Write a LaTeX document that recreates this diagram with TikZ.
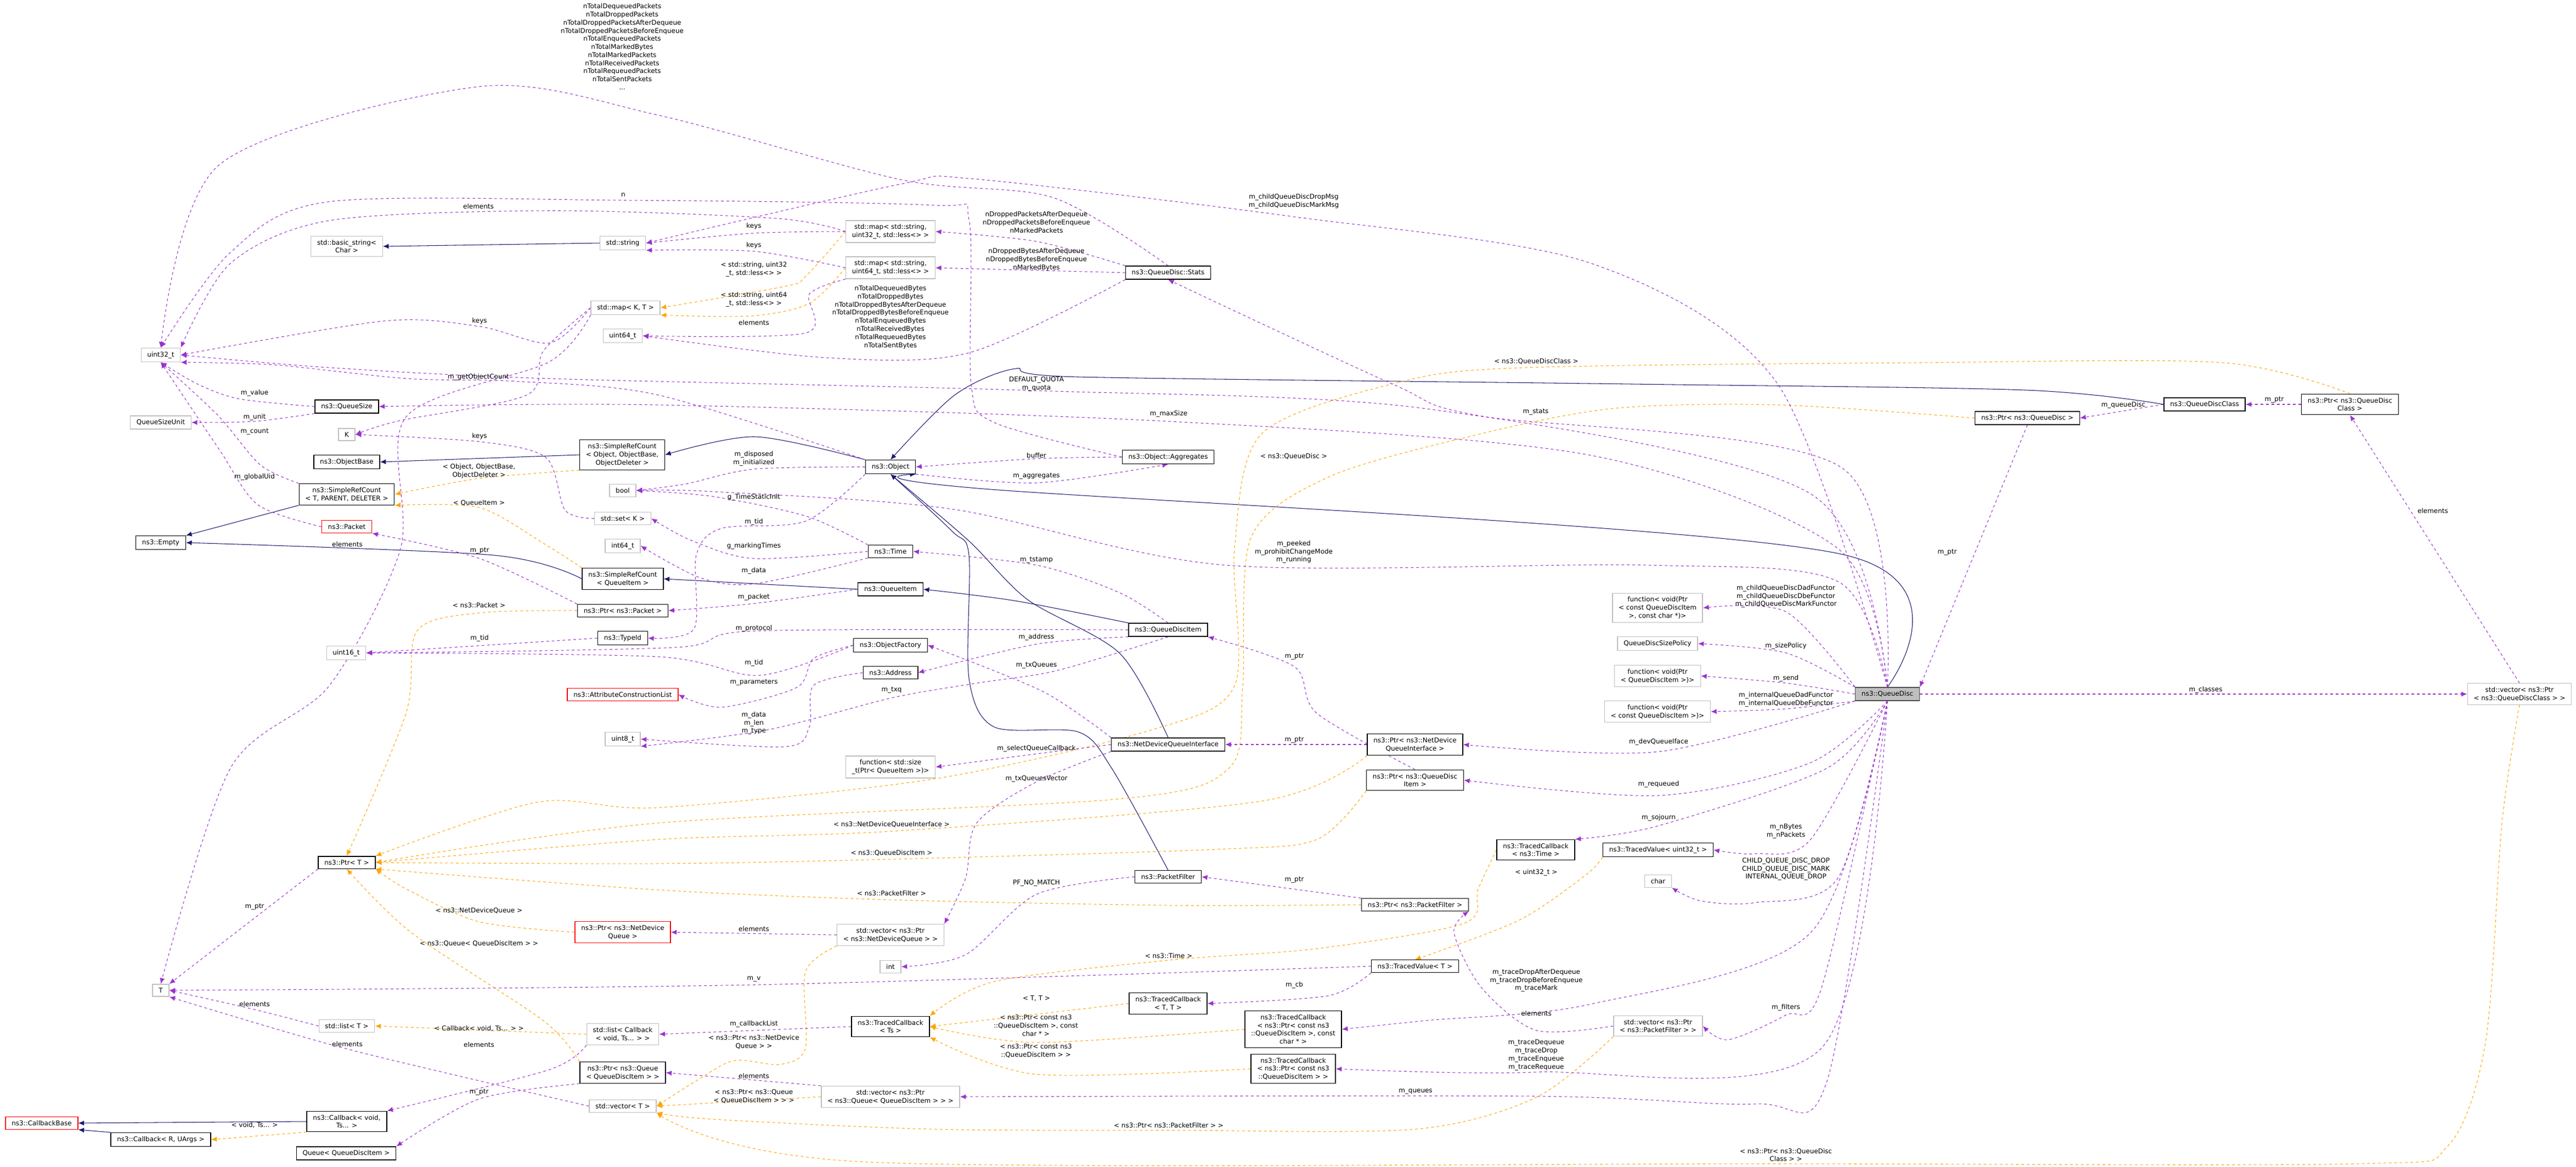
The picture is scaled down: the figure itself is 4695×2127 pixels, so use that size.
\documentclass[tikz,border=0pt]{standalone}
\usepackage{fontspec}
\setmainfont{DejaVu Sans}
\usetikzlibrary{arrows.meta}
\definecolor{memc}{HTML}{9A32CD}
\definecolor{inhc}{HTML}{191970}
\definecolor{tplc}{HTML}{FFA500}
\definecolor{extc}{HTML}{BFBFBF}
\pgfdeclarelayer{bg}
\pgfsetlayers{bg,main}
\tikzset{
  box/.style={draw, fill=white, align=center, font=\fontsize{3.4}{4.2}\selectfont,
    inner xsep=3.2pt, inner ysep=1.9pt, line width=0.4pt},
  cls/.style={box, draw=black},
  ext/.style={box, draw=extc},
  redbox/.style={box, draw=red},
  cur/.style={box, draw=black!70, fill=extc},
  lbl/.style={font=\fontsize{3.4}{4.2}\selectfont, align=center, inner sep=0pt},
  link/.style={line width=0.3pt, -{Latex[length=3pt,width=2.6pt]}},
  mem/.style={link, draw=memc, fill=none, dash pattern=on 1.4pt off 1.4pt},
  tpl/.style={link, draw=tplc, dash pattern=on 1.4pt off 1.4pt},
  inh/.style={link, draw=inhc}
}
\begin{document}
\begin{tikzpicture}[x=0.01cm,y=-0.01cm]
\useasboundingbox (0,0) rectangle (4695,2127);
% left columns
\node[ext] (u32) at (293,647) {uint32\_t};
\node[ext] (qsu) at (293,770) {QueueSizeUnit};
\node[cls] (empty) at (293,989) {ns3::Empty};
\node[ext] (T) at (293,1805) {T};
\node[cls] (cbR) at (293,2077) {ns3::Callback< R, UArgs >};
\node[redbox] (cbBase) at (76,2047) {ns3::CallbackBase};
\node[ext] (bstr) at (632,449) {std::basic\_string<\\Char >};
\node[cls] (qsize) at (632,741) {ns3::QueueSize};
\node[ext] (K) at (632,792) {K};
\node[cls] (objbase) at (632,842) {ns3::ObjectBase};
\node[cls] (srcT) at (632,901) {ns3::SimpleRefCount\\< T, PARENT, DELETER >};
\node[redbox] (packet) at (632,960) {ns3::Packet};
\node[ext] (u16) at (631,1190) {uint16\_t};
\node[cls] (ptrT) at (632,1572) {ns3::Ptr< T >};
\node[ext] (listT) at (632,1870) {std::list< T >};
\node[cls] (cbVoid) at (632,2044) {ns3::Callback< void,\\Ts... >};
\node[cls] (queueQDI) at (631,2102) {Queue< QueueDiscItem >};
\node[ext] (str) at (1135,443) {std::string};
\node[ext] (mapKT) at (1140,561) {std::map< K, T >};
\node[ext] (u64) at (1135,612) {uint64\_t};
\node[cls] (srcObj) at (1134,829) {ns3::SimpleRefCount\\< Object, ObjectBase,\\ObjectDeleter >};
\node[ext] (bool) at (1135,894) {bool};
\node[ext] (setK) at (1135,945) {std::set< K >};
\node[ext] (i64) at (1135,995) {int64\_t};
\node[cls] (srcQI) at (1135,1055) {ns3::SimpleRefCount\\< QueueItem >};
\node[cls] (ptrPkt) at (1135,1113) {ns3::Ptr< ns3::Packet >};
\node[cls] (typeid) at (1135,1163) {ns3::TypeId};
\node[redbox] (acl) at (1135,1266) {ns3::AttributeConstructionList};
\node[ext] (u8) at (1135,1347) {uint8\_t};
\node[redbox] (ptrNDQ) at (1135,1699) {ns3::Ptr< ns3::NetDevice\\Queue >};
\node[ext] (listCb) at (1135,1885) {std::list< Callback\\< void, Ts... > >};
\node[cls] (ptrQueue) at (1135,1955) {ns3::Ptr< ns3::Queue\\< QueueDiscItem > >};
\node[ext] (vecT) at (1135,2016) {std::vector< T >};
% middle columns
\node[ext] (map32) at (1623,422) {std::map< std::string,\\uint32\_t, std::less<> >};
\node[ext] (map64) at (1623,488) {std::map< std::string,\\uint64\_t, std::less<> >};
\node[cls] (object) at (1623,851) {ns3::Object};
\node[cls] (time) at (1623,1005) {ns3::Time};
\node[cls] (qitem) at (1623,1074) {ns3::QueueItem};
\node[cls] (objfac) at (1623,1176) {ns3::ObjectFactory};
\node[cls] (address) at (1623,1226) {ns3::Address};
\node[ext] (fnSize) at (1623,1398) {function< std::size\\\_t(Ptr< QueueItem >)>};
\node[ext] (vecNDQ) at (1623,1704) {std::vector< ns3::Ptr\\< ns3::NetDeviceQueue > >};
\node[ext] (int) at (1623,1762) {int};
\node[cls] (tcTs) at (1623,1871) {ns3::TracedCallback\\< Ts >};
\node[ext] (vecQueue) at (1623,1999) {std::vector< ns3::Ptr\\< ns3::Queue< QueueDiscItem > > >};
\node[cls] (stats) at (2129,497) {ns3::QueueDisc::Stats};
\node[cls] (aggr) at (2129,833) {ns3::Object::Aggregates};
\node[cls] (qdi) at (2129,1148) {ns3::QueueDiscItem};
\node[cls] (ndqi) at (2129,1357) {ns3::NetDeviceQueueInterface};
\node[cls] (pf) at (2129,1598) {ns3::PacketFilter};
\node[cls] (tcTT) at (2129,1829) {ns3::TracedCallback\\< T, T >};
\node[cls] (tcConstChar) at (2357,1876) {ns3::TracedCallback\\< ns3::Ptr< const ns3\\::QueueDiscItem >, const\\char * >};
\node[cls] (tcConst) at (2357,1948) {ns3::TracedCallback\\< ns3::Ptr< const ns3\\::QueueDiscItem > >};
\node[cls] (ptrNDQI) at (2579,1357) {ns3::Ptr< ns3::NetDevice\\QueueInterface >};
\node[cls] (ptrQDI) at (2579,1422) {ns3::Ptr< ns3::QueueDisc\\Item >};
\node[cls] (ptrPF) at (2579,1649) {ns3::Ptr< ns3::PacketFilter >};
\node[cls] (tvT) at (2579,1761) {ns3::TracedValue< T >};
\node[cls] (tcTime) at (2799,1549) {ns3::TracedCallback\\< ns3::Time >};
% right columns
\node[ext] (fnConstChar) at (3021,1108) {function< void(Ptr\\< const QueueDiscItem\\>, const char *)>};
\node[ext] (sizePol) at (3021,1173) {QueueDiscSizePolicy};
\node[ext] (fnSend) at (3021,1232) {function< void(Ptr\\< QueueDiscItem >)>};
\node[ext] (fnConst) at (3021,1297) {function< void(Ptr\\< const QueueDiscItem >)>};
\node[cls] (tvU32) at (3022,1549) {ns3::TracedValue< uint32\_t >};
\node[ext] (char) at (3022,1606) {char};
\node[ext] (vecPF) at (3022,1870) {std::vector< ns3::Ptr\\< ns3::PacketFilter > >};
\node[cur] (qdisc) at (3440,1265) {ns3::QueueDisc};
\node[cls] (ptrQD) at (3695,762) {ns3::Ptr< ns3::QueueDisc >};
\node[cls] (qdclass) at (4018,737) {ns3::QueueDiscClass};
\node[cls] (ptrQDC) at (4283,737) {ns3::Ptr< ns3::QueueDisc\\Class >};
\node[ext] (vecQDC) at (4592,1265) {std::vector< ns3::Ptr\\< ns3::QueueDiscClass > >};

\begin{pgfonlayer}{bg}
% inheritance
\draw[inh] (srcObj.west) -- (objbase.east);
\draw[inh] plot[smooth] coordinates {(object.north west) (1376,796) (srcObj.east)};
\draw[inh] (srcT.south west) -- (empty.north east);
\draw[inh] plot[smooth] coordinates {(srcQI.west) (900,1012) (empty.east)};
\draw[inh] (qitem.west) -- (srcQI.east);
\draw[inh] plot[smooth] coordinates {(qdisc.north) (3356,1010) (1781,890) (object.south east)};
\draw[inh] plot[smooth] coordinates {(qdclass.west) (3691,711) (2974,700) (1965,687) (1850,672) (1740,720) (object.north)};
\draw[inh] plot[smooth] coordinates {(qdi.north west) (1850,1095) (qitem.east)};
\draw[inh] plot[smooth] coordinates {(ndqi.north) (2041,1191) (1873,1093) (1766,986) (object.south)};
\draw[inh] plot[smooth] coordinates {(pf.north) (2026,1400) (1965,1334) (1812,1325) (1766,1236) (1766,1012) (1735,968) (object.south)};
\draw[inh] (cbVoid.west) -- (cbBase.east);
\draw[inh] (cbR.north west) -- (cbBase.south east);
\draw[inh] (str.west) -- (bstr.east);
% templates
\draw[tpl] plot[smooth] coordinates {(srcObj.south west) (873,872) (srcT.east)};
\draw[tpl] plot[smooth] coordinates {(srcQI.north west) (990,990) (873,925) (srcT.south east)};
\draw[tpl] plot[smooth] coordinates {(ptrPkt.west) (873,1117) (760,1150) (740,1300) (ptrT.north)};
\draw[tpl] plot[smooth] coordinates {(map32.west) (1468,504) (1430,522) (mapKT.east)};
\draw[tpl] plot[smooth] coordinates {(map64.west) (1475,553) (1368,576) (mapKT.south east)};
\draw[tpl] plot[smooth] coordinates {(ptrNDQ.west) (873,1680) (740,1620) (ptrT.south east)};
\draw[tpl] plot[smooth] coordinates {(ptrQueue.north west) (990,1860) (750,1700) (ptrT.south)};
\draw[tpl] (listCb.west) -- (listT.east);
\draw[tpl] (cbVoid.south west) -- (cbR.east);
\draw[tpl] plot[smooth] coordinates {(vecNDQ.south west) (1468,1771) (1468,1910) (1422,1940) (1338,1933) (1269,1970) (vecT.east)};
\draw[tpl] (vecQueue.west) -- (vecT.east);
\draw[tpl] plot[smooth] coordinates {(vecPF.south west) (2800,2000) (2580,2058) (2130,2060) (1700,2058) (1300,2040) (vecT.south east)};
\draw[tpl] plot[smooth] coordinates {(vecQDC.south) (4560,1500) (4530,1900) (4460,2090) (4300,2121) (3255,2121) (1582,2118) (vecT.south east)};
\draw[tpl] plot[smooth] coordinates {(tcTime.west) (2694,1620) (2668,1683) (2400,1729) (2130,1750) (1812,1789) (tcTs.north east)};
\draw[tpl] (tcTT.west) -- (tcTs.east);
\draw[tpl] plot[smooth] coordinates {(tcConstChar.west) (1888,1900) (tcTs.east)};
\draw[tpl] plot[smooth] coordinates {(tcConst.west) (1888,1958) (tcTs.south east)};
\draw[tpl] plot[smooth] coordinates {(tvU32.south west) (2890,1595) (2767,1678) (tvT.north)};
\draw[tpl] plot[smooth] coordinates {(ptrQDC.north) (4051,661) (3500,661) (2782,670) (2553,696) (2300,790) (2250,1000) (2250,1250) (2100,1330) (1700,1420) (1200,1472) (980,1462) (ptrT.north east)};
\draw[tpl] plot[smooth] coordinates {(ptrQD.west) (3242,738) (2935,745) (2668,798) (2420,870) (2280,980) (2265,1250) (2240,1400) (2042,1456) (1200,1500) (ptrT.east)};
\draw[tpl] plot[smooth] coordinates {(ptrNDQI.south west) (2300,1460) (1625,1515) (1200,1530) (ptrT.east)};
\draw[tpl] plot[smooth] coordinates {(ptrQDI.south west) (2400,1530) (2218,1548) (1625,1566) (1200,1574) (ptrT.east)};
\draw[tpl] plot[smooth] coordinates {(ptrPF.west) (2130,1650) (1625,1640) (1200,1622) (ptrT.south east)};
% members
\draw[mem] plot[smooth] coordinates {(stats.north) (1919,360) (1644,328) (1200,210) (872,158) (400,300) (u32.north)};
\draw[mem] plot[smooth] coordinates {(qdisc.north) (3240,700) (2900,480) (2358,395) (1774,326) (1644,335) (str.east)};
\draw[mem] plot[smooth] coordinates {(aggr.west) (1812,770) (1770,700) (1766,400) (1700,374) (1136,365) (597,368) (420,460) (u32.north)};
\draw[mem] plot[smooth] coordinates {(map32.west) (1414,398) (1000,384) (600,402) (420,480) (u32.north east)};
\draw[mem] plot[smooth] coordinates {(map32.west) (1374,425) (str.east)};
\draw[mem] plot[smooth] coordinates {(map64.west) (1374,458) (str.south east)};
\draw[mem] plot[smooth] coordinates {(map64.south west) (1475,536) (1468,607) (u64.east)};
\draw[mem] plot[smooth] coordinates {(stats.north west) (1889,440) (map32.east)};
\draw[mem] (stats.west) -- (map64.east);
\draw[mem] plot[smooth] coordinates {(stats.south west) (1766,643) (1506,652) (u64.east)};
\draw[mem] plot[smooth] coordinates {(qdisc.north) (3356,852) (2698,758) (2538,700) (stats.south)};
\draw[mem] plot[smooth] coordinates {(qdisc.north) (3350,1000) (2900,830) (2130,768) (1200,738) (qsize.east)};
\draw[mem] plot[smooth] coordinates {(qdisc.north) (3300,900) (2600,745) (1889,712) (1000,690) (600,670) (u32.east)};
\draw[mem] plot[smooth] coordinates {(object.north west) (1200,720) (941,695) (742,690) (500,665) (u32.south east)};
\draw[mem] plot[smooth] coordinates {(mapKT.west) (1002,625) (874,595) (700,585) (u32.east)};
\draw[mem] plot[smooth] coordinates {(mapKT.west) (990,640) (960,720) (727,767) (K.east)};
\draw[mem] plot[smooth] coordinates {(mapKT.south west) (1000,660) (740,760) (730,1000) (600,1250) (420,1400) (T.north)};
\draw[mem] plot[smooth] coordinates {(setK.west) (1030,930) (995,834) (874,805) (K.east)};
\draw[mem] plot[smooth] coordinates {(qsize.west) (436,727) (360,700) (u32.south)};
\draw[mem] plot[smooth] coordinates {(qsize.south west) (464,768) (qsu.east)};
\draw[mem] plot[smooth] coordinates {(srcT.north west) (474,847) (398,758) (u32.south)};
\draw[mem] plot[smooth] coordinates {(packet.west) (470,920) (400,820) (u32.south)};
\draw[mem] plot[smooth] coordinates {(ptrPkt.north west) (874,1018) (packet.south east)};
\draw[mem] (typeid.west) -- (u16.east);
\draw[mem] plot[smooth] coordinates {(objfac.west) (1384,1231) (1200,1197) (u16.east)};
\draw[mem] plot[smooth] coordinates {(object.south west) (1468,950) (1315,963) (1269,1012) (1265,1146) (typeid.east)};
\draw[mem] plot[smooth] coordinates {(object.west) (1374,855) (1250,882) (bool.east)};
\draw[mem] plot[smooth] coordinates {(time.north west) (1470,941) (1300,905) (bool.east)};
\draw[mem] plot[smooth] coordinates {(qdisc.north) (3350,1060) (3000,1030) (2233,1030) (1736,928) (1300,896) (bool.east)};
\draw[mem] plot[smooth] coordinates {(time.west) (1374,1018) (1260,985) (setK.east)};
\draw[mem] plot[smooth] coordinates {(time.south west) (1376,1064) (1276,1053) (i64.east)};
\draw[mem] plot[smooth] coordinates {(qitem.west) (1374,1100) (ptrPkt.east)};
\draw[mem] plot[smooth] coordinates {(qdi.south west) (1889,1174) (address.east)};
\draw[mem] plot[smooth] coordinates {(qdi.west) (1376,1150) (1230,1180) (u16.east)};
\draw[mem] plot[smooth] coordinates {(qdi.north) (2040,1080) (1889,1030) (time.east)};
\draw[mem] plot[smooth] coordinates {(objfac.west) (1483,1200) (1452,1253) (1315,1289) (acl.east)};
\draw[mem] plot[smooth] coordinates {(address.west) (1483,1249) (1475,1325) (1430,1361) (u8.east)};
\draw[mem] plot[smooth] coordinates {(qdi.south) (1927,1222) (1781,1245) (1625,1272) (1400,1330) (u8.south east)};
\draw[mem] plot[smooth] coordinates {(ndqi.south west) (1889,1425) (1780,1500) (1760,1600) (vecNDQ.north east)};
\draw[mem] plot[smooth] coordinates {(ndqi.west) (1889,1374) (fnSize.east)};
\draw[mem] plot[smooth] coordinates {(ndqi.north west) (1900,1260) (objfac.east)};
\draw[mem] (ptrNDQI.west) -- (ndqi.east);
\draw[mem] plot[smooth] coordinates {(ptrQDI.north) (2400,1300) (2359,1215) (qdi.south east)};
\draw[mem] (ptrPF.north west) -- (pf.east);
\draw[mem] plot[smooth] coordinates {(pf.west) (1889,1630) (1760,1740) (int.east)};
\draw[mem] (vecNDQ.west) -- (ptrNDQ.east);
\draw[mem] plot[smooth] coordinates {(tvT.west) (1374,1795) (T.east)};
\draw[mem] plot[smooth] coordinates {(tvT.south west) (2420,1815) (tcTT.east)};
\draw[mem] (tcTs.west) -- (listCb.east);
\draw[mem] (vecQueue.north west) -- (ptrQueue.east);
\draw[mem] plot[smooth] coordinates {(ptrQueue.south west) (873,2003) (queueQDI.north east)};
\draw[mem] plot[smooth] coordinates {(listCb.south west) (1000,1950) (cbVoid.north east)};
\draw[mem] plot[smooth] coordinates {(listT.west) (464,1840) (T.east)};
\draw[mem] plot[smooth] coordinates {(vecT.west) (633,1912) (T.south east)};
\draw[mem] (ptrT.south west) -- (T.north east);
\draw[mem] plot[smooth] coordinates {(qdisc.north west) (3255,1115) (fnConstChar.east)};
\draw[mem] plot[smooth] coordinates {(qdisc.north west) (3255,1190) (sizePol.east)};
\draw[mem] plot[smooth] coordinates {(qdisc.west) (3255,1245) (fnSend.east)};
\draw[mem] plot[smooth] coordinates {(qdisc.south west) (3255,1292) (fnConst.east)};
\draw[mem] plot[smooth] coordinates {(qdisc.south west) (3023,1370) (ptrNDQI.east)};
\draw[mem] plot[smooth] coordinates {(qdisc.south) (3300,1390) (3023,1450) (ptrQDI.east)};
\draw[mem] plot[smooth] coordinates {(qdisc.south) (3330,1400) (3023,1505) (tcTime.north east)};
\draw[mem] plot[smooth] coordinates {(qdisc.south) (3300,1530) (3200,1556) (tvU32.east)};
\draw[mem] plot[smooth] coordinates {(qdisc.south) (3350,1600) (3200,1645) (3100,1642) (char.south east)};
\draw[mem] plot[smooth] coordinates {(qdisc.south) (3300,1700) (2900,1830) (2600,1860) (tcConstChar.east)};
\draw[mem] plot[smooth] coordinates {(qdisc.south) (3320,1800) (3255,1850) (3150,1895) (vecPF.east)};
\draw[mem] plot[smooth] coordinates {(qdisc.south) (3320,1910) (2800,1954) (tcConst.east)};
\draw[mem] plot[smooth] coordinates {(qdisc.south) (3330,1970) (3200,2012) (2800,1998) (vecQueue.east)};
\draw[mem] (ptrQD.south) -- (qdisc.north east);
\draw[mem] (qdclass.west) -- (ptrQD.east);
\draw[mem] (ptrQDC.west) -- (qdclass.east);
\draw[mem] (vecQDC.north) -- (ptrQDC.south);
\draw[mem] (qdisc.east) -- (vecQDC.west);
\draw[mem] plot[smooth] coordinates {(vecPF.west) (2800,1878) (2700,1800) (2650,1700) (ptrPF.south east)};
\draw[mem] plot[smooth] coordinates {(aggr.west) (1889,836) (object.east)};
\draw[mem] plot[smooth] coordinates {(object.south east) (1889,880) (aggr.south)};
\end{pgfonlayer}

% edge labels
\node[lbl] (lTotalPk) at (1134,85) {nTotalDequeuedPackets\\nTotalDroppedPackets\\nTotalDroppedPacketsAfterDequeue\\nTotalDroppedPacketsBeforeEnqueue\\nTotalEnqueuedPackets\\nTotalMarkedBytes\\nTotalMarkedPackets\\nTotalReceivedPackets\\nTotalRequeuedPackets\\nTotalSentPackets\\...};
\node[lbl] (lMsg) at (2358,367) {m\_childQueueDiscDropMsg\\m\_childQueueDiscMarkMsg};
\node[lbl] (lN) at (1136,355) {n};
\node[lbl] (lElem1) at (872,376) {elements};
\node[lbl] (lKeys1) at (1374,412) {keys};
\node[lbl] (lKeys2) at (1374,447) {keys};
\node[lbl] (lTpl32) at (1374,491) {< std::string, uint32\\\_t, std::less<> >};
\node[lbl] (lTpl64) at (1374,546) {< std::string, uint64\\\_t, std::less<> >};
\node[lbl] (lElem2) at (1374,588) {elements};
\node[lbl] (lDropPk) at (1889,405) {nDroppedPacketsAfterDequeue\\nDroppedPacketsBeforeEnqueue\\nMarkedPackets};
\node[lbl] (lDropB) at (1889,473) {nDroppedBytesAfterDequeue\\nDroppedBytesBeforeEnqueue\\nMarkedBytes};
\node[lbl] (lTotalB) at (1623,578) {nTotalDequeuedBytes\\nTotalDroppedBytes\\nTotalDroppedBytesAfterDequeue\\nTotalDroppedBytesBeforeEnqueue\\nTotalEnqueuedBytes\\nTotalReceivedBytes\\nTotalRequeuedBytes\\nTotalSentBytes};
\node[lbl] (lKeys3) at (874,585) {keys};
\node[lbl] (lGetObj) at (872,687) {m\_getObjectCount};
\node[lbl] (lQuota) at (1889,700) {DEFAULT\_QUOTA\\m\_quota};
\node[lbl] (lMaxSize) at (2130,754) {m\_maxSize};
\node[lbl] (lStats) at (2799,751) {m\_stats};
\node[lbl] (lTplQDC) at (2800,659) {< ns3::QueueDiscClass >};
\node[lbl] (lTplQD) at (2358,832) {< ns3::QueueDisc >};
\node[lbl] (lValue) at (464,716) {m\_value};
\node[lbl] (lUnit) at (464,760) {m\_unit};
\node[lbl] (lCount) at (464,787) {m\_count};
\node[lbl] (lKeys4) at (874,795) {keys};
\node[lbl] (lTplObj) at (873,859) {< Object, ObjectBase,\\ObjectDeleter >};
\node[lbl] (lGlobalUid) at (464,869) {m\_globalUid};
\node[lbl] (lTplQI) at (873,917) {< QueueItem >};
\node[lbl] (lElem3) at (633,992) {elements};
\node[lbl] (lPtr1) at (874,1004) {m\_ptr};
\node[lbl] (lTplPkt) at (873,1103) {< ns3::Packet >};
\node[lbl] (lTid1) at (874,1163) {m\_tid};
\node[lbl] (lDisposed) at (1374,836) {m\_disposed\\m\_initialized};
\node[lbl] (lBuffer) at (1889,830) {buffer};
\node[lbl] (lAggr) at (1889,868) {m\_aggregates};
\node[lbl] (lTimeInit) at (1374,906) {g\_TimeStaticInit};
\node[lbl] (lTid2) at (1374,951) {m\_tid};
\node[lbl] (lMarking) at (1374,995) {g\_markingTimes};
\node[lbl] (lData) at (1374,1040) {m\_data};
\node[lbl] (lPacket) at (1374,1088) {m\_packet};
\node[lbl] (lProtocol) at (1374,1145) {m\_protocol};
\node[lbl] (lTid3) at (1374,1208) {m\_tid};
\node[lbl] (lParams) at (1374,1244) {m\_parameters};
\node[lbl] (lDataLen) at (1374,1318) {m\_data\\m\_len\\m\_type};
\node[lbl] (lRunning) at (2358,1006) {m\_peeked\\m\_prohibitChangeMode\\m\_running};
\node[lbl] (lTstamp) at (1889,1021) {m\_tstamp};
\node[lbl] (lAddress) at (1889,1161) {m\_address};
\node[lbl] (lTxQueues) at (1889,1212) {m\_txQueues};
\node[lbl] (lTxq) at (1625,1258) {m\_txq};
\node[lbl] (lPtr2) at (2359,1197) {m\_ptr};
\node[lbl] (lPtr3) at (2359,1349) {m\_ptr};
\node[lbl] (lSelect) at (1889,1364) {m\_selectQueueCallback};
\node[lbl] (lTxVec) at (1889,1419) {m\_txQueuesVector};
\node[lbl] (lTplNDQI) at (1625,1503) {< ns3::NetDeviceQueueInterface >};
\node[lbl] (lTplQDI) at (1625,1555) {< ns3::QueueDiscItem >};
\node[lbl] (lNoMatch) at (1889,1609) {PF\_NO\_MATCH};
\node[lbl] (lTplPF) at (1625,1628) {< ns3::PacketFilter >};
\node[lbl] (lPtr4) at (2359,1604) {m\_ptr};
\node[lbl] (lElem4) at (1374,1693) {elements};
\node[lbl] (lTplTime) at (2130,1742) {< ns3::Time >};
\node[lbl] (lV) at (1374,1785) {m\_v};
\node[lbl] (lCb) at (2359,1795) {m\_cb};
\node[lbl] (lTplTT) at (1889,1820) {< T, T >};
\node[lbl] (lTplCC) at (1888,1869) {< ns3::Ptr< const ns3\\::QueueDiscItem >, const\\char * >};
\node[lbl] (lTplC) at (1888,1915) {< ns3::Ptr< const ns3\\::QueueDiscItem > >};
\node[lbl] (lCbList) at (1374,1866) {m\_callbackList};
\node[lbl] (lTplNDQ2) at (1374,1899) {< ns3::Ptr< ns3::NetDevice\\Queue > >};
\node[lbl] (lElem5) at (1374,1961) {elements};
\node[lbl] (lTplQ2) at (1374,1998) {< ns3::Ptr< ns3::Queue\\< QueueDiscItem > > >};
\node[lbl] (lTplPF2) at (2130,2051) {< ns3::Ptr< ns3::PacketFilter > >};
\node[lbl] (lPtr5) at (464,1653) {m\_ptr};
\node[lbl] (lTplNDQ) at (873,1660) {< ns3::NetDeviceQueue >};
\node[lbl] (lTplQueue) at (873,1720) {< ns3::Queue< QueueDiscItem > >};
\node[lbl] (lElem6) at (464,1830) {elements};
\node[lbl] (lTplCbv) at (873,1875) {< Callback< void, Ts... > >};
\node[lbl] (lElem7) at (633,1903) {elements};
\node[lbl] (lElem8) at (873,1904) {elements};
\node[lbl] (lPtr6) at (873,1991) {m\_ptr};
\node[lbl] (lTplVoid) at (464,2051) {< void, Ts... >};
\node[lbl] (lDadF) at (3255,1087) {m\_childQueueDiscDadFunctor\\m\_childQueueDiscDbeFunctor\\m\_childQueueDiscMarkFunctor};
\node[lbl] (lSizePol) at (3255,1177) {m\_sizePolicy};
\node[lbl] (lSend) at (3255,1236) {m\_send};
\node[lbl] (lInternal) at (3255,1275) {m\_internalQueueDadFunctor\\m\_internalQueueDbeFunctor};
\node[lbl] (lDevQ) at (3023,1352) {m\_devQueueIface};
\node[lbl] (lPtr7) at (3549,1007) {m\_ptr};
\node[lbl] (lRequeued) at (3023,1429) {m\_requeued};
\node[lbl] (lSojourn) at (3023,1490) {m\_sojourn};
\node[lbl] (lBytes) at (3255,1515) {m\_nBytes\\m\_nPackets};
\node[lbl] (lTplU32) at (2800,1590) {< uint32\_t >};
\node[lbl] (lChild) at (3255,1584) {CHILD\_QUEUE\_DISC\_DROP\\CHILD\_QUEUE\_DISC\_MARK\\INTERNAL\_QUEUE\_DROP};
\node[lbl] (lTraceDrop) at (2800,1787) {m\_traceDropAfterDequeue\\m\_traceDropBeforeEnqueue\\m\_traceMark};
\node[lbl] (lElem9) at (2800,1847) {elements};
\node[lbl] (lFilters) at (3255,1836) {m\_filters};
\node[lbl] (lTrace) at (2800,1923) {m\_traceDequeue\\m\_traceDrop\\m\_traceEnqueue\\m\_traceRequeue};
\node[lbl] (lQueues) at (2580,1990) {m\_queues};
\node[lbl] (lTplQDC2) at (3255,2105) {< ns3::Ptr< ns3::QueueDisc\\Class > >};
\node[lbl] (lQueueDisc) at (3870,738) {m\_queueDisc};
\node[lbl] (lPtr8) at (4145,729) {m\_ptr};
\node[lbl] (lElem10) at (4434,931) {elements};
\node[lbl] (lClasses) at (4020,1257) {m\_classes};
\end{tikzpicture}
\end{document}
